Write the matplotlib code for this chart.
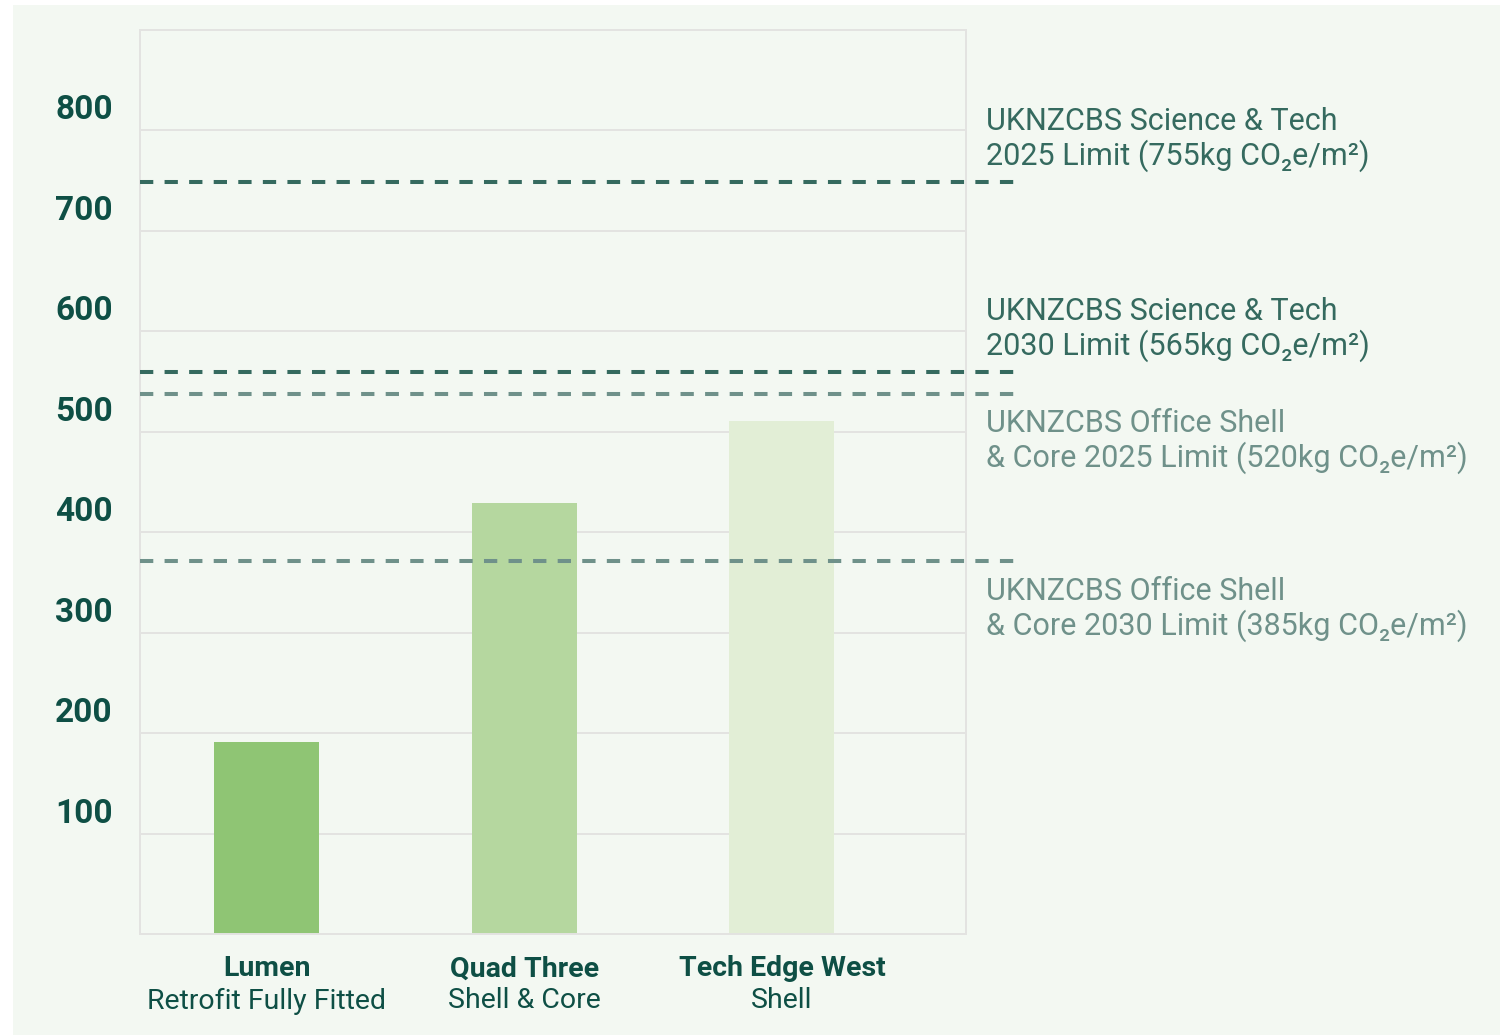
import matplotlib
matplotlib.use("Agg")
import matplotlib.pyplot as plt
from matplotlib.patches import Rectangle

plt.rcParams['font.family'] = ['Roboto', 'DejaVu Sans']

# Buildings and their embodied carbon (kg CO2e/m2)
names = ['Lumen', 'Quad Three', 'Tech Edge West']
subtitles = ['Retrofit Fully Fitted', 'Shell & Core', 'Shell']
values = [191, 429, 511]
bar_colors = ['#8fc574', '#b5d79f', '#e2eed6']

# UKNZCBS limit lines (drawn positions) and their labels
limit_values = [749, 560, 538, 371]
limit_labels = [
    'UKNZCBS Science & Tech\n2025 Limit (755kg CO₂e/m²)',
    'UKNZCBS Science & Tech\n2030 Limit (565kg CO₂e/m²)',
    'UKNZCBS Office Shell\n& Core 2025 Limit (520kg CO₂e/m²)',
    'UKNZCBS Office Shell\n& Core 2030 Limit (385kg CO₂e/m²)',
]
limit_colors = ['#356a5f', '#356a5f', '#6f918a', '#6f918a']
label_above = [True, True, False, False]

yticks = [100, 200, 300, 400, 500, 600, 700, 800]

BG = '#f3f8f2'
DARK = '#0e4f45'

fig = plt.figure(figsize=(15, 10.35), dpi=100, facecolor='white')
# light green panel behind everything
panel = Rectangle((13 / 1500, 0), 1 - 13 / 1500, 1 - 5 / 1035,
                  transform=fig.transFigure, facecolor=BG,
                  edgecolor='none', zorder=-10)
fig.add_artist(panel)

ax = fig.add_axes([140 / 1500, 101 / 1035, 826 / 1500, 904 / 1035])
ax.set_facecolor(BG)

x = list(range(len(names)))
ax.bar(x, values, width=0.408, color=bar_colors, zorder=2)

ax.set_xlim(-0.493, 2.715)
ax.set_ylim(0, 900)

# grid and frame
ax.set_yticks(yticks)
ax.yaxis.grid(True, color='#e3e3e1', linewidth=1.4, zorder=1)
ax.set_axisbelow(True)
for s in ax.spines.values():
    s.set_color('#e3e3e1')
    s.set_linewidth(1.4)
ax.tick_params(axis='both', length=0)
ax.set_xticks(x)
ax.set_xticklabels([''] * len(x))
ax.set_yticklabels([])

# y tick labels sit a little above their gridlines
for v in yticks:
    ax.annotate(str(v), xy=(0, v), xycoords=ax.get_yaxis_transform(),
                xytext=(-27, 20), textcoords='offset pixels',
                ha='right', va='center', fontsize=24, fontweight='bold',
                color=DARK)

# category labels under the bars
for xi, n, sub in zip(x, names, subtitles):
    ax.annotate(n, xy=(xi, 0), xycoords=ax.get_xaxis_transform(),
                xytext=(0, -35), textcoords='offset pixels',
                ha='center', va='center', fontsize=20.5, fontweight='bold',
                color=DARK)
    ax.annotate(sub, xy=(xi, 0), xycoords=ax.get_xaxis_transform(),
                xytext=(0, -67), textcoords='offset pixels',
                ha='center', va='center', fontsize=20.5, color=DARK)

# limit lines, running past the right edge of the axes
tr = ax.get_yaxis_transform()
for v, lab, c, above in zip(limit_values, limit_labels, limit_colors, label_above):
    ax.plot([0, 1.069], [v, v], transform=tr, color=c, linewidth=2.9,
            dashes=(3.3, 2.8), dash_capstyle='butt', clip_on=False, zorder=3)
    dy = 42 if above else -48
    ax.annotate(lab, xy=(1.024, v), xycoords=tr,
                xytext=(0, dy), textcoords='offset pixels',
                ha='left', va='center', fontsize=22, color=c,
                linespacing=1.15)

fig.savefig('out.png', dpi=100, facecolor=fig.get_facecolor())
plt.close(fig)
